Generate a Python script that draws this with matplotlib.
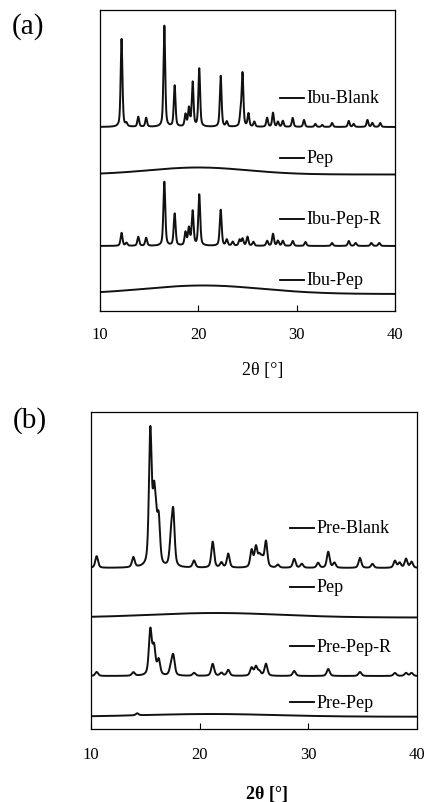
import numpy as np
import matplotlib.pyplot as plt

plt.rcParams['font.family'] = ['Liberation Serif', 'DejaVu Serif']

# ---------- panel (a) data : peak positions [deg] and heights [a.u.] ----------
ibu_blank_pos = [12.2, 12.7, 13.9, 14.7, 16.55, 17.6, 18.7, 19.05, 19.43, 20.1,
                 22.28, 22.9, 24.3, 24.5, 25.1, 25.7, 27.0, 27.6, 28.1, 28.6,
                 29.6, 30.75, 31.9, 32.6, 33.6, 35.3, 35.8, 37.2, 37.7, 38.5]
ibu_blank_h = [88, 3, 10, 9, 101, 41, 12, 18, 44, 58,
               51, 5, 11, 53, 13, 5, 9, 14, 5, 6,
               9, 7, 3, 2, 4, 6, 3, 7, 4, 4]

ibu_pep_r_pos = [12.2, 12.7, 13.9, 14.7, 16.55, 17.6, 18.7, 19.05, 19.43, 20.1,
                 22.28, 22.9, 23.5, 24.2, 24.5, 25.0, 25.6, 27.0, 27.6, 28.1,
                 28.6, 29.6, 30.9, 33.6, 35.3, 36.0, 37.6, 38.4]
ibu_pep_r_h = [13, 3, 9, 8, 64, 32, 13, 17, 34, 51,
               36, 6, 4, 6, 7, 9, 4, 5, 12, 5,
               5, 5, 4, 3, 5, 3, 3, 3]

# amorphous humps: centre, height, spread
pep_a_hump = [20.0, 7.0, 5.0]
ibu_pep_hump = [20.5, 8.5, 6.0]

labels_a = ['Ibu-Blank', 'Pep', 'Ibu-Pep-R', 'Ibu-Pep']
offsets_a = [184, 136.5, 65, 17]
label_y_a = [213, 153, 92, 31]

# ---------- panel (b) data ----------
pre_blank_pos = [10.52, 13.9, 15.46, 15.8, 15.98, 16.23, 17.36, 17.57, 19.48, 21.2,
                 22.0, 22.63, 24.78, 25.18, 25.5, 25.75, 26.1, 27.2, 28.7, 29.4,
                 30.9, 31.83, 32.4, 34.75, 35.9, 37.97, 38.4, 38.99, 39.5]
pre_blank_h = [11.7, 10, 134, 60, 30, 44, 25, 52, 7, 26,
               5, 14, 17, 20, 10, 8, 26, 3, 9, 4,
               5, 16, 5, 10, 4, 7, 5, 9, 6]

pre_pep_r_pos = [10.52, 13.9, 15.46, 15.8, 16.23, 17.36, 17.57, 19.48, 21.2, 22.0,
                 22.63, 24.78, 25.18, 25.5, 26.1, 28.7, 31.83, 34.75, 37.97, 38.99, 39.5]
pre_pep_r_h = [4, 3.5, 45, 27, 15, 8, 19, 3, 12, 3,
               6, 8, 9, 4, 12, 5, 7, 4, 3, 3, 3]

pre_pep_pos = [14.25]
pre_pep_h = [2]

pep_b_hump = [21.5, 4.5, 6.0]
pre_pep_hump = [21.0, 2.7, 6.0]

labels_b = ['Pre-Blank', 'Pep', 'Pre-Pep-R', 'Pre-Pep']
offsets_b = [161, 111.5, 53, 12.3]
label_y_b = [201, 142, 83, 27]

x = np.linspace(10, 40, 3001)


def pattern(pos, heights, fwhm):
    # pseudo-voigt profile for every listed reflection
    y = np.zeros_like(x)
    hw = fwhm / 2.0
    for c, h in zip(pos, heights):
        lor = 1.0 / (1.0 + ((x - c) / hw) ** 2)
        gau = np.exp(-np.log(2) * ((x - c) / hw) ** 2)
        y += h * (0.5 * lor + 0.5 * gau)
    return y


def hump(params):
    c, h, s = params
    return h * np.exp(-((x - c) ** 2) / (2 * s ** 2))


def style_axes(ax, ymax, pad):
    ax.set_xlim(10, 40)
    ax.set_ylim(0, ymax)
    ax.set_xticks([10, 20, 30, 40])
    ax.set_yticks([])
    ax.tick_params(axis='x', direction='in', length=4, width=0.8,
                   labelsize=12, pad=pad)
    for sp in ax.spines.values():
        sp.set_linewidth(0.9)


def add_labels(ax, labels, ys, x0, x1, xt):
    for lab, yy in zip(labels, ys):
        ax.plot([x0, x1], [yy, yy], color='black', lw=1.3)
        ax.text(xt, yy, lab, fontsize=13, va='center', ha='left')


fig = plt.figure(figsize=(4.27, 8.03), dpi=100)

# ---- (a) ----
ax1 = fig.add_axes([0.234, 0.6115, 0.691, 0.3748])
traces_a = [
    pattern(ibu_blank_pos, ibu_blank_h, 0.21),
    hump(pep_a_hump),
    pattern(ibu_pep_r_pos, ibu_pep_r_h, 0.23),
    hump(ibu_pep_hump),
]
for tr, off in zip(traces_a, offsets_a):
    ax1.plot(x, tr + off, color='#111111', lw=1.4)
add_labels(ax1, labels_a, label_y_a, 28.3, 30.75, 31.0)
style_axes(ax1, 301, 11)
fig.text(263 / 427, 1 - 370 / 803, '2θ [°]', fontsize=13, ha='center', va='center')
fig.text(12 / 427, 1 - 27 / 803, '(a)', fontsize=21, ha='left', va='center')

# ---- (b) ----
ax2 = fig.add_axes([0.2131, 0.0909, 0.7635, 0.3948])
traces_b = [
    pattern(pre_blank_pos, pre_blank_h, 0.3),
    hump(pep_b_hump),
    pattern(pre_pep_r_pos, pre_pep_r_h, 0.32),
    pattern(pre_pep_pos, pre_pep_h, 0.3) + hump(pre_pep_hump),
]
for tr, off in zip(traces_b, offsets_b):
    ax2.plot(x, tr + off, color='#111111', lw=1.4)
add_labels(ax2, labels_b, label_y_b, 28.3, 30.5, 30.75)
style_axes(ax2, 317, 12)
fig.text(267 / 427, 1 - 795 / 803, '2θ [°]', fontsize=13, fontweight='bold',
         ha='center', va='center')
fig.text(13 / 427, 1 - 421 / 803, '(b)', fontsize=21, ha='left', va='center')

fig.savefig('out.png', dpi=100)
